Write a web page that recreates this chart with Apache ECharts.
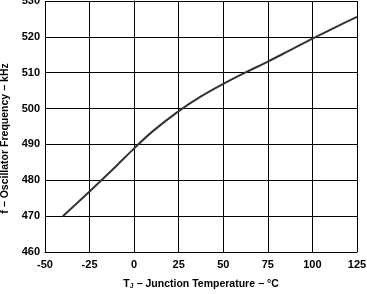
<!DOCTYPE html>
<html><head><meta charset="utf-8">
<script src="https://cdn.jsdelivr.net/npm/echarts@6/dist/echarts.min.js"></script>
<style>html,body{margin:0;padding:0;background:#fff}#c{width:367px;height:294px}</style>
</head><body><div id="c"></div>
<script>
const temps = [-40, -25, -10, 0, 10, 25, 37.5, 50, 62.5, 75, 87.5, 100, 112.5, 125];
const freq  = [470, 476.9, 484, 488.9, 493.5, 499.3, 503.4, 506.9, 510.1, 513.1, 516.3, 519.5, 522.6, 525.6];
const xTicks = [-50, -25, 0, 25, 50, 75, 100, 125];
const yTicks = [460, 470, 480, 490, 500, 510, 520, 530];

const chart = echarts.init(document.getElementById('c'), null, {renderer: 'canvas'});
const font = 'Liberation Sans, Arial, sans-serif';
chart.setOption({
  animation: false,
  grid: {left: 45, right: 10, top: 1, bottom: 42, containLabel: false, outerBoundsMode: 'none'},
  xAxis: {
    type: 'value', min: xTicks[0], max: xTicks[xTicks.length-1], interval: 25,
    name: '{t|T}{s|J}{t| − Junction Temperature − °C}',
    nameLocation: 'middle', nameGap: 26,
    nameTextStyle: {rich: {
      t: {fontFamily: font, fontWeight: 'bold', fontSize: 10.5, color: '#000'},
      s: {fontFamily: font, fontWeight: 'bold', fontSize: 7, color: '#000', verticalAlign: 'bottom', padding: [5,0,0,0]}
    }},
    axisLine: {show: true, lineStyle: {color: '#000', width: 1}},
    axisTick: {show: false},
    splitLine: {show: true, lineStyle: {color: '#000', width: 1}},
    axisLabel: {fontFamily: font, fontWeight: 'bold', fontSize: 11, color: '#000', margin: 7}
  },
  yAxis: {
    type: 'value', min: yTicks[0], max: yTicks[yTicks.length-1], interval: 10,
    name: 'f − Oscillator Frequency − kHz',
    nameLocation: 'middle', nameGap: 32,
    nameTextStyle: {fontFamily: font, fontWeight: 'bold', fontSize: 10.5, color: '#000', padding: [0,24,0,0]},
    axisLine: {show: true, lineStyle: {color: '#000', width: 1}},
    axisTick: {show: false},
    splitLine: {show: true, lineStyle: {color: '#000', width: 1}},
    axisLabel: {fontFamily: font, fontWeight: 'bold', fontSize: 11, color: '#000', margin: 5}
  },
  series: [{
    type: 'line', data: temps.map((t, i) => [t, freq[i]]),
    showSymbol: false, smooth: 0.3,
    lineStyle: {color: '#333', width: 2}
  }]
});
</script></body></html>
